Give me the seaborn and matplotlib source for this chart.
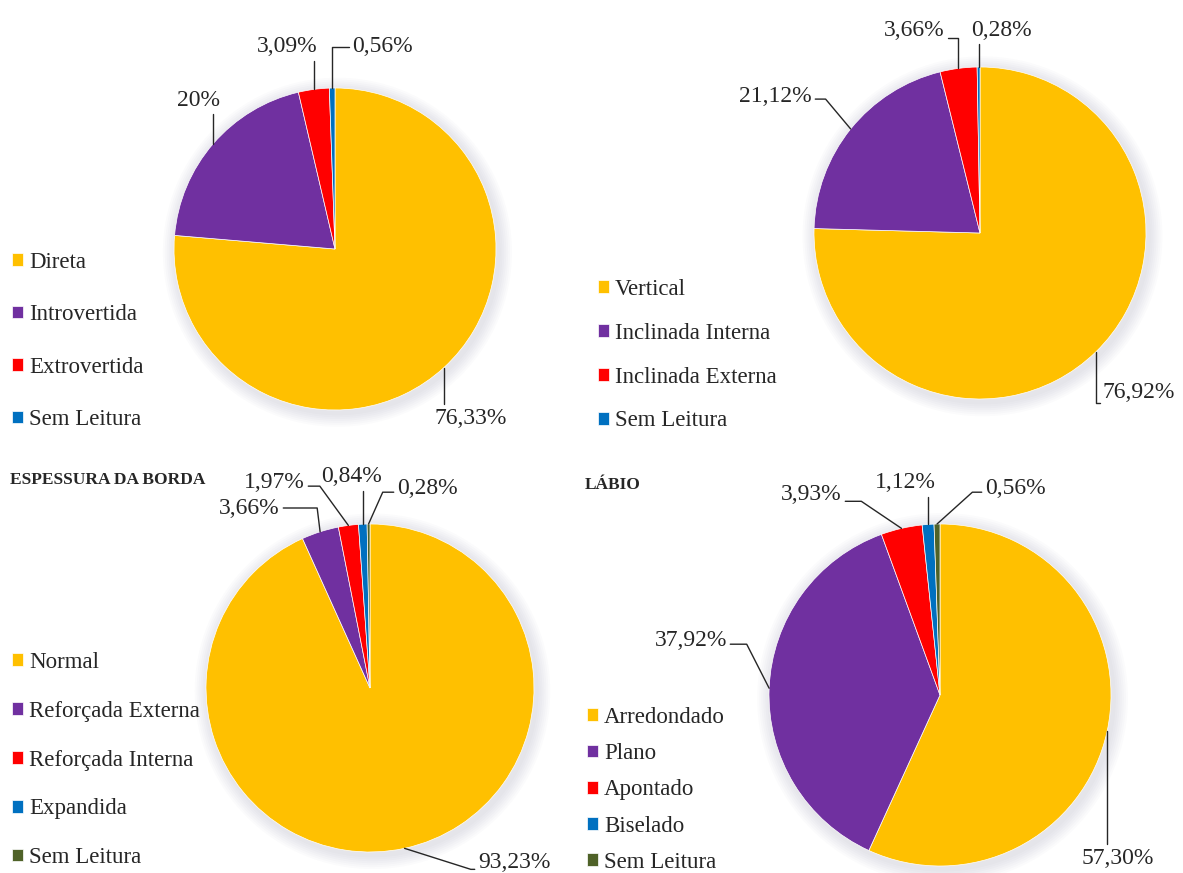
import numpy as np
import matplotlib.pyplot as plt
import seaborn as sns

sns.set_theme(style='white')
plt.rcParams['font.family'] = ['Liberation Serif', 'DejaVu Serif']

W, H = 1183, 873

# dados (percentuais)
direcao_cats = ['Direta', 'Introvertida', 'Extrovertida', 'Sem Leitura']
direcao_vals = [76.33, 20, 3.09, 0.56]

inclinacao_cats = ['Vertical', 'Inclinada Interna', 'Inclinada Externa', 'Sem Leitura']
inclinacao_vals = [76.92, 21.12, 3.66, 0.28]

espessura_cats = ['Normal', 'Reforçada Externa', 'Reforçada Interna', 'Expandida', 'Sem Leitura']
espessura_vals = [93.23, 3.66, 1.97, 0.84, 0.28]

labio_cats = ['Arredondado', 'Plano', 'Apontado', 'Biselado', 'Sem Leitura']
labio_vals = [57.30, 37.92, 3.93, 1.12, 0.56]

cores = sns.color_palette(['#FFC000', '#7030A0', '#FF0000', '#0070C0', '#4F6228'])

FS_LEG = 16.5
FS_ROT = 17

fig = plt.figure(figsize=(W / 100, H / 100), dpi=100)
fig.patch.set_facecolor('white')


def rotulo(v):
    s = f'{v:.0f}' if v == int(v) else f'{v:.2f}'
    return s.replace('.', ',') + '%'


def pizza(cats, vals, centro, raio, leg, specs, titulo=None):
    cx, cy = centro
    ax = fig.add_axes([(cx - raio) / W, 1 - (cy + raio) / H, 2 * raio / W, 2 * raio / H])
    # sombra suave
    for k in range(7):
        ax.add_patch(plt.Circle((0.015, -0.02), 1 + 0.012 * (k + 1), color='#8c8ca8',
                                alpha=0.03, lw=0, zorder=0, clip_on=False))
    wedges, _ = ax.pie(vals, colors=cores[:len(vals)], startangle=90, counterclock=False,
                       wedgeprops=dict(edgecolor='white', linewidth=0.5))
    for w in wedges:
        w.set_clip_on(False)
    ax.set_aspect('auto')
    ax.set_xlim(-1, 1)
    ax.set_ylim(-1, 1)
    ax.axis('off')

    for w, v, (tx, ty, ha, rel, angb) in zip(wedges, vals, specs):
        mid = np.deg2rad((w.theta1 + w.theta2) / 2)
        p = (w.r * np.cos(mid), w.r * np.sin(mid))
        ax.annotate(rotulo(v), xy=p, xycoords='data', xytext=(tx, H - ty),
                    textcoords='figure pixels', ha=ha, va='center', fontsize=FS_ROT,
                    color='#262626', annotation_clip=False,
                    arrowprops=dict(arrowstyle='-', color='#262626', lw=1.0,
                                    shrinkA=0, shrinkB=0, relpos=rel,
                                    connectionstyle=f'angle,angleA=0,angleB={angb},rad=0'))

    lx, ly, passo = leg
    fpx = FS_LEG * 100 / 72
    linha = 0.887 * fpx
    ax.legend(wedges, cats, loc='upper left', bbox_to_anchor=(lx / W, 1 - (ly - linha / 2 + 2) / H),
              bbox_transform=fig.transFigure, frameon=False, fontsize=FS_LEG,
              handlelength=0.47, handleheight=0.47, handletextpad=0.27,
              labelspacing=(passo - linha) / fpx, borderpad=0, borderaxespad=0)

    if titulo:
        tx, ty = titulo[1]
        fig.text(tx / W, 1 - ty / H, titulo[0], fontsize=12.5, fontweight='bold',
                 va='center', ha='left', color='#262626')


pizza(direcao_cats, direcao_vals, (335, 249), 161, (12, 260, 51.8),
      [(435, 418, 'left', (0.1, 1.0), 90),
       (198, 100, 'center', (0.9, 0.0), 90),
       (287, 47, 'center', (1.0, 0.0), 90),
       (352, 47, 'left', (0.0, 0.5), 90)])

pizza(inclinacao_cats, inclinacao_vals, (980, 233), 166, (598, 287, 43.2),
      [(1103, 392, 'left', (0.0, 0.0), 90),
       (812, 97, 'right', (1.0, 0.4), 130),
       (914, 30, 'center', (1.0, 0.1), 90),
       (1001, 30, 'center', (0.15, 0.0), 90)])

pizza(espessura_cats, espessura_vals, (370, 688), 164, (12, 660, 48.2),
      [(478, 862, 'left', (0.0, 0.15), -17.6),
       (280, 508, 'right', (1.0, 0.5), 97),
       (305, 483, 'right', (1.0, 0.35), 126),
       (352, 477, 'center', (0.7, 0.0), 90),
       (397, 488, 'left', (0.0, 0.3), 66)],
      titulo=('ESPESSURA DA BORDA', (10, 480)))

pizza(labio_cats, labio_vals, (940, 695), 171, (587, 715, 35.6),
      [(1118, 858, 'center', (0.36, 1.0), 90),
       (727, 640, 'right', (1.0, 0.3), 117),
       (842, 495, 'right', (1.0, 0.2), 146),
       (905, 483, 'center', (0.9, 0.0), 90),
       (985, 488, 'left', (0.0, 0.3), 42)],
      titulo=('LÁBIO', (585, 485)))

plt.savefig('out.png', dpi=100, facecolor='white')
plt.close()
